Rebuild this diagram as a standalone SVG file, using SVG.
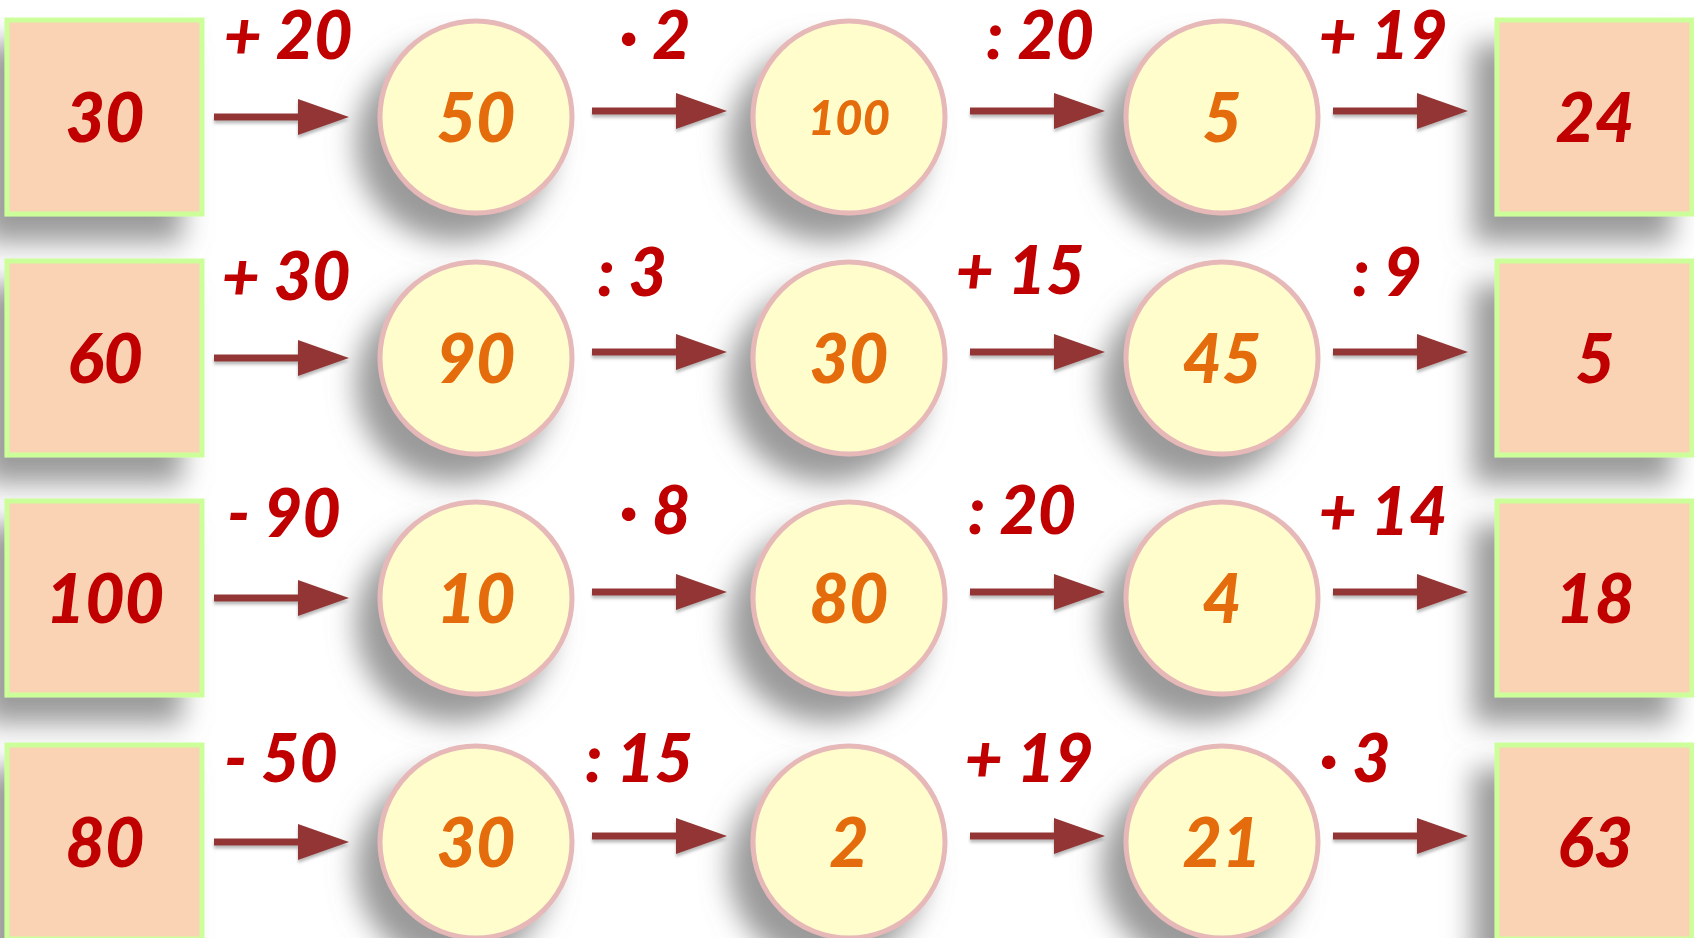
<svg xmlns="http://www.w3.org/2000/svg" width="1694" height="938" viewBox="0 0 1694 938">
<defs>
<filter id="sh" x="-50%" y="-50%" width="200%" height="210%">
<feGaussianBlur in="SourceAlpha" stdDeviation="14"/>
<feOffset dx="-22" dy="26" result="b"/>
<feFlood flood-color="#888" flood-opacity="0.85"/>
<feComposite in2="b" operator="in"/>
<feMerge><feMergeNode/><feMergeNode in="SourceGraphic"/></feMerge>
</filter>
<filter id="ash" x="-10%" y="-50%" width="120%" height="200%">
<feGaussianBlur in="SourceAlpha" stdDeviation="1.5"/>
<feOffset dx="0" dy="3" result="b"/>
<feFlood flood-color="#777" flood-opacity="0.5"/>
<feComposite in2="b" operator="in"/>
<feMerge><feMergeNode/><feMergeNode in="SourceGraphic"/></feMerge>
</filter>
<symbol id="arr" overflow="visible"><g filter="url(#ash)"><rect x="0" y="-3.5" width="86" height="7" fill="#943634"/><polygon points="84,-18 135,0 84,18" fill="#943634"/></g></symbol>
</defs>
<style>
.box{fill:#F9D3B4;stroke:#CCFF99;stroke-width:5}
.cir{fill:#FFFDCB;stroke:#E6B8B8;stroke-width:5}
text{font-family:Lato,"Open Sans","Liberation Sans",sans-serif;font-weight:900;font-style:italic;text-anchor:middle}
.bt{fill:#C00000;font-size:68px}
.ct{fill:#E46C0A;font-size:68px}
.lb{fill:#C00000;font-size:66px}
</style>
<rect width="1694" height="938" fill="#fff"/>

<!-- Row 1 -->
<g id="r1-start" filter="url(#sh)"><rect class="box" x="7" y="20" width="195" height="194"/><text class="bt" x="105" y="142">30</text></g>
<g id="r1-c1" filter="url(#sh)"><circle class="cir" cx="476" cy="117" r="96"/><text class="ct" x="476" y="142">50</text></g>
<g id="r1-c2" filter="url(#sh)"><circle class="cir" cx="849" cy="117" r="96"/><text class="ct" x="849" y="135" style="font-size:47px">100</text></g>
<g id="r1-c3" filter="url(#sh)"><circle class="cir" cx="1222" cy="117" r="96"/><text class="ct" x="1222" y="142">5</text></g>
<g id="r1-end" filter="url(#sh)"><rect class="box" x="1497" y="20" width="195" height="194"/><text class="bt" x="1595" y="142">24</text></g>

<!-- Row 2 -->
<g id="r2-start" filter="url(#sh)"><rect class="box" x="7" y="261" width="195" height="194"/><text class="bt" x="105" y="383">60</text></g>
<g id="r2-c1" filter="url(#sh)"><circle class="cir" cx="476" cy="358" r="96"/><text class="ct" x="476" y="383">90</text></g>
<g id="r2-c2" filter="url(#sh)"><circle class="cir" cx="849" cy="358" r="96"/><text class="ct" x="849" y="383">30</text></g>
<g id="r2-c3" filter="url(#sh)"><circle class="cir" cx="1222" cy="358" r="96"/><text class="ct" x="1222" y="383">45</text></g>
<g id="r2-end" filter="url(#sh)"><rect class="box" x="1497" y="261" width="195" height="194"/><text class="bt" x="1595" y="383">5</text></g>

<!-- Row 3 -->
<g id="r3-start" filter="url(#sh)"><rect class="box" x="7" y="501" width="195" height="194"/><text class="bt" x="105" y="623">100</text></g>
<g id="r3-c1" filter="url(#sh)"><circle class="cir" cx="476" cy="598" r="96"/><text class="ct" x="476" y="623">10</text></g>
<g id="r3-c2" filter="url(#sh)"><circle class="cir" cx="849" cy="598" r="96"/><text class="ct" x="849" y="623">80</text></g>
<g id="r3-c3" filter="url(#sh)"><circle class="cir" cx="1222" cy="598" r="96"/><text class="ct" x="1222" y="623">4</text></g>
<g id="r3-end" filter="url(#sh)"><rect class="box" x="1497" y="501" width="195" height="194"/><text class="bt" x="1595" y="623">18</text></g>

<!-- Row 4 -->
<g id="r4-start" filter="url(#sh)"><rect class="box" x="7" y="745" width="195" height="194"/><text class="bt" x="105" y="867">80</text></g>
<g id="r4-c1" filter="url(#sh)"><circle class="cir" cx="476" cy="842" r="96"/><text class="ct" x="476" y="867">30</text></g>
<g id="r4-c2" filter="url(#sh)"><circle class="cir" cx="849" cy="842" r="96"/><text class="ct" x="849" y="867">2</text></g>
<g id="r4-c3" filter="url(#sh)"><circle class="cir" cx="1222" cy="842" r="96"/><text class="ct" x="1222" y="867">21</text></g>
<g id="r4-end" filter="url(#sh)"><rect class="box" x="1497" y="745" width="195" height="194"/><text class="bt" x="1595" y="867">63</text></g>

<g id="connectors">
<use href="#arr" x="214" y="117"/><use href="#arr" x="592" y="111"/><use href="#arr" x="970" y="111"/><use href="#arr" x="1333" y="111"/>
<use href="#arr" x="214" y="358"/><use href="#arr" x="592" y="352"/><use href="#arr" x="970" y="352"/><use href="#arr" x="1333" y="352"/>
<use href="#arr" x="214" y="598"/><use href="#arr" x="592" y="592"/><use href="#arr" x="970" y="592"/><use href="#arr" x="1333" y="592"/>
<use href="#arr" x="214" y="842"/><use href="#arr" x="592" y="836"/><use href="#arr" x="970" y="836"/><use href="#arr" x="1333" y="836"/>

<text class="lb" x="288" y="59">+ 20</text>
<text class="lb" x="655" y="59">· 2</text>
<text class="lb" x="1040" y="59">: 20</text>
<text class="lb" x="1383" y="59">+ 19</text>

<text class="lb" x="286" y="300">+ 30</text>
<text class="lb" x="632" y="296">: 3</text>
<text class="lb" x="1020" y="294">+ 15</text>
<text class="lb" x="1387" y="296">: 9</text>

<text class="lb" x="284" y="537">- 90</text>
<text class="lb" x="655" y="534">· 8</text>
<text class="lb" x="1022" y="534">: 20</text>
<text class="lb" x="1383" y="535">+ 14</text>

<text class="lb" x="281" y="782">- 50</text>
<text class="lb" x="639" y="782">: 15</text>
<text class="lb" x="1029" y="782">+ 19</text>
<text class="lb" x="1355" y="782">· 3</text>
</g>
</svg>
